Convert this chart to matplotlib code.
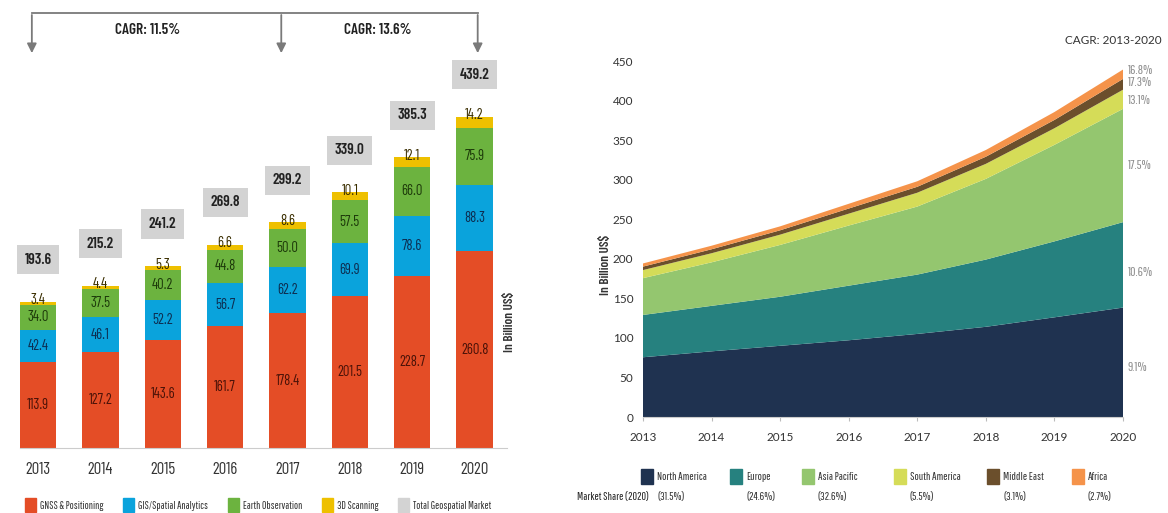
import matplotlib
matplotlib.use('Agg')
from matplotlib import pyplot as plt
from matplotlib import font_manager
import matplotlib.patches as mpatches
import numpy as np

narrow = ['Barlow Condensed', 'DejaVu Sans']
plain = ['Lato', 'DejaVu Sans']
avail = {f.name for f in font_manager.fontManager.ttflist}
xnarrow = next((f for f in ['Pathway Gothic One', 'Saira Extra Condensed', 'Sofia Sans Extra Condensed']
                if f in avail), None)
if xnarrow:
    label_font, label_size = [xnarrow, 'DejaVu Sans'], 7.8
else:
    label_font, label_size = narrow, 7
plt.rcParams['font.family'] = narrow

# left chart: geospatial market by segment (billion US$)
years = ['2013', '2014', '2015', '2016', '2017', '2018', '2019', '2020']
gnss = [113.9, 127.2, 143.6, 161.7, 178.4, 201.5, 228.7, 260.8]
gis = [42.4, 46.1, 52.2, 56.7, 62.2, 69.9, 78.6, 88.3]
earth_obs = [34.0, 37.5, 40.2, 44.8, 50.0, 57.5, 66.0, 75.9]
scanning = [3.4, 4.4, 5.3, 6.6, 8.6, 10.1, 12.1, 14.2]
totals = [193.6, 215.2, 241.2, 269.8, 299.2, 339.0, 385.3, 439.2]
segment_names = ['GNSS & Positioning', 'GIS/Spatial Analytics', 'Earth Observation',
                 '3D Scanning', 'Total Geospatial Market']
cagr_left = ['CAGR: 11.5%', 'CAGR: 13.6%']

# right chart: market by region (billion US$)
region_years = [2013, 2014, 2015, 2016, 2017, 2018, 2019, 2020]
north_america = [75.5, 83.0, 90.0, 97.0, 105.0, 114.0, 126.0, 138.3]
europe = [53.5, 57.5, 62.0, 69.0, 75.0, 85.0, 96.0, 108.0]
asia_pacific = [46.5, 55.0, 65.5, 76.0, 86.0, 102.0, 122.0, 143.2]
south_america = [10.2, 11.5, 13.0, 15.0, 17.5, 19.0, 21.0, 24.2]
middle_east = [4.4, 5.0, 5.5, 6.5, 7.5, 9.0, 10.5, 13.6]
africa = [4.0, 4.5, 5.0, 6.0, 7.0, 8.5, 10.0, 11.9]
region_names = ['North America', 'Europe', 'Asia Pacific', 'South America', 'Middle East', 'Africa']
region_share = ['(31.5%)', '(24.6%)', '(32.6%)', '(5.5%)', '(3.1%)', '(2.7%)']
region_cagr = ['9.1%', '10.6%', '17.5%', '13.1%', '17.3%', '16.8%']

seg_colors = ['#e44d26', '#0aa3dc', '#6cb33f', '#eec000', '#d3d3d3']
seg_text = ['#4a1208', '#0d2d50', '#1d3a0a', '#3a2e00']
reg_colors = ['#1f3250', '#26817f', '#94c66f', '#d5dc58', '#6b4f2c', '#f5934a']

W, H = 1168, 513
fig = plt.figure(figsize=(W / 100, H / 100), dpi=100)

# ---------------- left: stacked bars ----------------
ax1 = fig.add_axes([20 / W, (H - 448) / H, 487 / W, 448 / H])
x = np.arange(len(years))
bw = 0.58
bottom = np.zeros(len(years))
for vals, c, tc in zip([gnss, gis, earth_obs, scanning], seg_colors, seg_text):
    vals = np.array(vals)
    ax1.bar(x, vals, bw, bottom=bottom, color=c, linewidth=0)
    top_label = c == seg_colors[3]
    for xi, b, v in zip(x, bottom, vals):
        y = b + v + 2 if top_label else b + v / 2
        ax1.text(xi, y, f'{v:.1f}', ha='center', va='center', fontsize=10.5, color=tc)
    bottom += vals

for xi, t in zip(x, totals):
    ax1.text(xi, t + 56, f'{t:.1f}', ha='center', va='center', fontsize=11, fontweight='semibold',
             color='#222222',
             bbox=dict(boxstyle='square,pad=0.5', fc='#d3d3d3', ec='none'))

# CAGR arrows on top
arrow_x = [-0.1, 3.9, 7.05]
ax1.plot([arrow_x[0], arrow_x[-1]], [577, 577], color='#7a7a7a', lw=1.3, clip_on=False)
for ax_ in arrow_x:
    ax1.annotate('', xy=(ax_, 520), xytext=(ax_, 578),
                 arrowprops=dict(arrowstyle='-|>', color='#7a7a7a', lw=1.3, mutation_scale=14),
                 annotation_clip=False)
ax1.text(1.75, 554, cagr_left[0], ha='center', va='center', fontsize=11, fontweight='semibold', color='#222222')
ax1.text(5.45, 554, cagr_left[1], ha='center', va='center', fontsize=11, fontweight='semibold', color='#222222')

ax1.set_xlim(-0.29, 7.52)
ax1.set_ylim(0, 448 / 0.754)
ax1.set_xticks(x)
ax1.set_xticklabels(years, fontsize=12, color='#333333')
ax1.tick_params(axis='x', length=0, pad=10)
ax1.set_yticks([])
for s in ['top', 'left', 'right']:
    ax1.spines[s].set_visible(False)
ax1.spines['bottom'].set_color('#cccccc')

fig.text(510 / W, 1 - 322 / H, 'In Billion US$', rotation=90, ha='center', va='center',
         fontsize=9.5, fontweight='semibold', color='#333333')

handles = [mpatches.Patch(color=c, label=n) for c, n in zip(seg_colors, segment_names)]
fig.legend(handles=handles, loc='center left', bbox_to_anchor=(25 / W, 1 - 505 / H), ncol=5,
           frameon=False, prop={'family': label_font, 'size': label_size},
           handlelength=1.0, handleheight=1.6, handletextpad=0.4,
           columnspacing=1.8, borderaxespad=0, borderpad=0, labelcolor='#333333')

# ---------------- right: stacked area ----------------
ax2 = fig.add_axes([643 / W, (H - 417) / H, 480 / W, 356 / H])
layers = [north_america, europe, asia_pacific, south_america, middle_east, africa]
ax2.stackplot(region_years, *layers, colors=reg_colors, linewidth=0)
ax2.set_xlim(2013, 2020)
ax2.set_ylim(0, 450)
ax2.set_yticks(np.arange(0, 451, 50))
ax2.set_xticks(region_years)
for lab in ax2.get_xticklabels() + ax2.get_yticklabels():
    lab.set_fontfamily(plain)
    lab.set_fontsize(8.5)
    lab.set_color('#333333')
ax2.tick_params(axis='y', length=0, pad=7)
ax2.tick_params(axis='x', length=3, color='#bbbbbb', pad=8)
for s in ['top', 'left', 'right']:
    ax2.spines[s].set_visible(False)
ax2.spines['bottom'].set_color('#cccccc')
fig.text(606 / W, 1 - 265 / H, 'In Billion US$', rotation=90, ha='center', va='center',
         fontsize=9.5, fontweight='semibold', color='#333333')

last = np.array([l[-1] for l in layers])
mids = np.cumsum(last) - last / 2
nudge = [-7, -10, 0, -2, 2, 5]
for m, n, lab in zip(mids, nudge, region_cagr):
    ax2.text(2020.07, m + n, lab, ha='left', va='center', fontsize=9.5, color='#8c8c8c',
             family=label_font, clip_on=False)

fig.text(1162 / W, 1 - 40 / H, 'CAGR: 2013-2020', ha='right', va='center', fontsize=8.5,
         color='#333333', family=plain)

# legend with market shares
leg_x = [641, 730, 802, 894, 987, 1072]
for lx, c, n, sh in zip(leg_x, reg_colors, region_names, region_share):
    fig.add_artist(mpatches.Rectangle((lx / W, 1 - 484 / H), 12 / W, 15 / H, color=c,
                                      transform=fig.transFigure))
    fig.text((lx + 16) / W, 1 - 477 / H, n, ha='left', va='center', fontsize=8.2,
             color='#333333', family=label_font)
    fig.text((lx + 16) / W, 1 - 497 / H, sh, ha='left', va='center', fontsize=8.2,
             color='#333333', family=label_font)
fig.text(577 / W, 1 - 497 / H, 'Market Share (2020)', ha='left', va='center', fontsize=8.2,
         fontweight='bold', color='#222222', family=label_font)

plt.savefig('out.png', dpi=100)
